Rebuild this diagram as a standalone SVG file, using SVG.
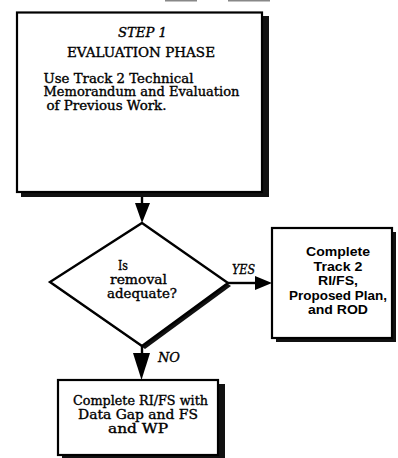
<svg xmlns="http://www.w3.org/2000/svg" width="398" height="458" viewBox="0 0 398 458">
<style>
.box{fill:#fff;stroke:#000;stroke-width:2.2}
.shadow{fill:#111}
.ser{font-family:"DejaVu Serif","Liberation Serif",serif;fill:#000;stroke:#000;stroke-width:0.35}
.san{font-family:"Liberation Sans",Arial,sans-serif;font-weight:bold;fill:#000}
.it{font-style:italic}
.ln{stroke:#000;stroke-width:2.4;fill:none}
</style>
<rect x="165" y="0" width="32" height="1.5" fill="#888"/>
<rect x="228" y="0" width="42" height="1.5" fill="#888"/>
<g id="connectors">
<line class="ln" x1="142" y1="197" x2="142" y2="205"/>
<polygon points="135,203 150,203 142,223" fill="#000"/>
<line class="ln" x1="228" y1="283" x2="257" y2="283"/>
<polygon points="255,276 255,290 272,283" fill="#000"/>
<line class="ln" x1="142" y1="346" x2="142" y2="355"/>
<polygon points="133,353 150,353 141.5,380" fill="#000"/>
<text class="ser it" x="232" y="274" font-size="12" textLength="23" lengthAdjust="spacingAndGlyphs">YES</text>
<text class="ser it" x="158" y="362" font-size="12" textLength="22" lengthAdjust="spacingAndGlyphs">NO</text>
</g>
<g id="step1">
<rect class="shadow" x="21" y="16" width="248" height="181"/>
<rect class="box" x="17" y="12.5" width="245" height="179.5"/>
<text class="ser it" x="118" y="37" font-size="12.5" textLength="49" lengthAdjust="spacingAndGlyphs">STEP 1</text>
<text class="ser" x="67" y="57" font-size="12.5" textLength="148" lengthAdjust="spacingAndGlyphs">EVALUATION PHASE</text>
<text class="ser" x="43.5" y="82.5" font-size="12" textLength="150" lengthAdjust="spacingAndGlyphs">Use Track 2 Technical</text>
<text class="ser" x="43.5" y="96" font-size="12" textLength="196" lengthAdjust="spacingAndGlyphs">Memorandum and Evaluation</text>
<text class="ser" x="46.5" y="110" font-size="12" textLength="120" lengthAdjust="spacingAndGlyphs">of Previous Work.</text>
</g>
<g id="decision">
<polygon class="shadow" points="145,226 231,286 145,349 53,285"/>
<polygon points="142,223 228,283 142,346 50,282" fill="#fff" stroke="#000" stroke-width="2.4"/>
<text class="ser" x="118" y="270" font-size="12.5" textLength="10" lengthAdjust="spacingAndGlyphs">Is</text>
<text class="ser" x="110" y="283.5" font-size="12.5" textLength="57" lengthAdjust="spacingAndGlyphs">removal</text>
<text class="ser" x="107" y="298" font-size="12.5" textLength="70" lengthAdjust="spacingAndGlyphs">adequate?</text>
</g>
<g id="track2">
<rect class="shadow" x="276" y="232" width="120" height="110"/>
<rect class="box" x="272" y="228" width="120" height="110"/>
<g class="san" font-size="12.5" text-anchor="middle">
<text x="338" y="256" textLength="64" lengthAdjust="spacingAndGlyphs">Complete</text>
<text x="338" y="270.5" textLength="49" lengthAdjust="spacingAndGlyphs">Track 2</text>
<text x="338" y="285" textLength="40" lengthAdjust="spacingAndGlyphs">RI/FS,</text>
<text x="338" y="299.5" textLength="98" lengthAdjust="spacingAndGlyphs">Proposed Plan,</text>
<text x="338" y="314" textLength="60" lengthAdjust="spacingAndGlyphs">and ROD</text>
</g>
</g>
<g id="complete-rifs">
<rect class="shadow" x="62" y="384" width="163" height="76"/>
<rect class="box" x="58" y="380" width="160" height="75"/>
<g class="ser" font-size="12.5" text-anchor="middle">
<text x="140.5" y="405" textLength="135" lengthAdjust="spacingAndGlyphs">Complete RI/FS with</text>
<text x="138" y="419" textLength="120" lengthAdjust="spacingAndGlyphs">Data Gap and FS</text>
<text x="138" y="433" textLength="60" lengthAdjust="spacingAndGlyphs">and WP</text>
</g>
</g>
</svg>
